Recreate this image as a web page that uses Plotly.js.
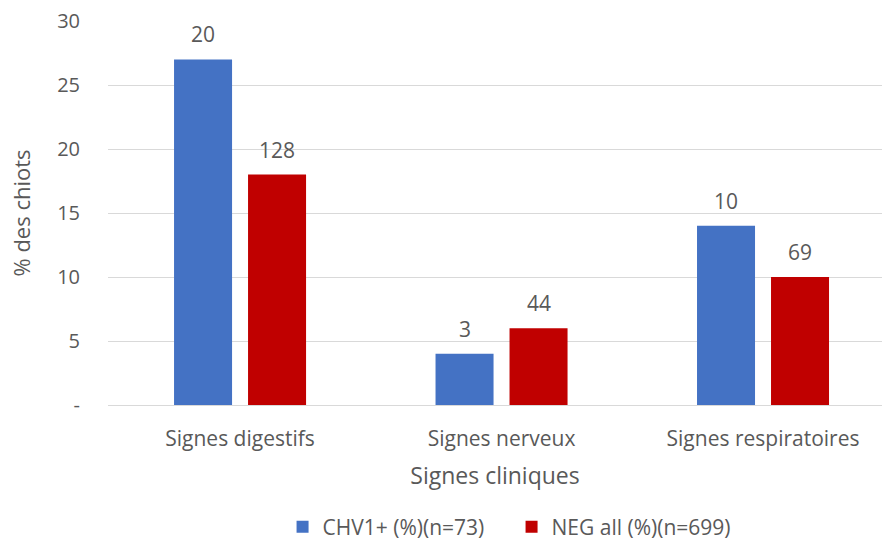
<!DOCTYPE html>
<html>
<head>
<meta charset="utf-8">
<script src="https://cdn.plot.ly/plotly-3.0.1.min.js"></script>
<style>html,body{margin:0;padding:0;background:#fff;}#chart{width:882px;height:549px;}</style>
</head>
<body>
<div id="chart"></div>
<script>
const categories = ["Signes digestifs", "Signes nerveux", "Signes respiratoires"];
const seriesNames = ["CHV1+ (%)(n=73)", "NEG all (%)(n=699)"];
const chvPct = [27, 4, 14];
const negPct = [18, 6, 10];
const chvCounts = ["20", "3", "10"];
const negCounts = ["128", "44", "69"];
const yTickVals = [0, 5, 10, 15, 20, 25, 30];
const yTickText = ["-", "5", "10", "15", "20", "25", "30"];

const FONT = "Open Sans, Noto Sans, sans-serif";
const TXT = "#595959";

const traces = [
  {type: "bar", name: seriesNames[0], x: categories, y: chvPct, marker: {color: "#4472C4"}, hoverinfo: "none"},
  {type: "bar", name: seriesNames[1], x: categories, y: negPct, marker: {color: "#C00000"}, hoverinfo: "none"}
];

const annotations = [];
categories.forEach((c, i) => {
  annotations.push({x: c, y: chvPct[i], text: chvCounts[i], showarrow: false, xanchor: "center", yanchor: "bottom", xshift: -37, yshift: 9, font: {family: FONT, size: 21, color: TXT}});
  annotations.push({x: c, y: negPct[i], text: negCounts[i], showarrow: false, xanchor: "center", yanchor: "bottom", xshift: 37, yshift: 9, font: {family: FONT, size: 21, color: TXT}});
});

const layout = {
  width: 882, height: 549,
  margin: {l: 108, r: 0, t: 21, b: 144},
  paper_bgcolor: "#fff", plot_bgcolor: "#fff",
  font: {family: FONT, color: TXT, size: 17},
  barmode: "group", bargap: 0.434, bargroupgap: 0.216,
  xaxis: {
    type: "category", range: [-0.505, 2.455], automargin: false,
    showgrid: false, zeroline: false, showline: false, ticks: "",
    ticklabelstandoff: 19,
    tickfont: {family: FONT, size: 21, color: TXT},
    title: {text: "Signes cliniques", font: {family: FONT, size: 23, color: TXT}, standoff: 16}
  },
  yaxis: {
    range: [0, 30], tickvals: yTickVals, ticktext: yTickText, automargin: false,
    showgrid: true, gridcolor: "#D9D9D9", gridwidth: 1,
    zeroline: true, zerolinecolor: "#D9D9D9", zerolinewidth: 1,
    showline: false, ticks: "", ticklen: 0,
    ticklabelstandoff: 27,
    tickfont: {family: FONT, size: 20, color: TXT},
    title: {text: "% des chiots", font: {family: FONT, size: 22, color: TXT}, standoff: 20}
  },
  legend: {orientation: "h", xref: "container", yref: "container", x: 0.58, xanchor: "center", y: 0.04, yanchor: "middle", font: {family: FONT, size: 21, color: TXT}, entrywidth: 184, traceorder: "normal"},
  annotations: annotations,
  showlegend: true
};

Plotly.newPlot("chart", traces, layout, {staticPlot: true, displayModeBar: false});
</script>
</body>
</html>
